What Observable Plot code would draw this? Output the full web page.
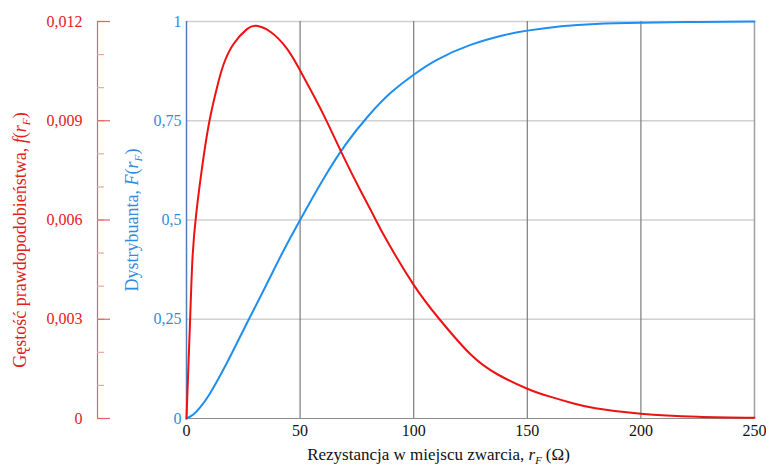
<!DOCTYPE html>
<html>
<head>
<meta charset="utf-8">
<script src="https://cdn.jsdelivr.net/npm/d3@7"></script>
<script src="https://cdn.jsdelivr.net/npm/@observablehq/plot@0.6"></script>
<style>
  html, body { margin: 0; padding: 0; background: #fff; }
</style>
</head>
<body>
<div id="chart"></div>
<script>
// ---- data ----
const cdfR = [0, 3, 6, 10, 15, 20, 27, 35, 42, 50, 60, 70, 80, 90, 100, 110, 125, 140, 150, 165, 180, 200, 225, 250];
const cdfF = [0, 0.01, 0.028, 0.06, 0.11, 0.165, 0.245, 0.335, 0.415, 0.5, 0.601, 0.69, 0.762, 0.821, 0.866, 0.903, 0.941, 0.966, 0.977, 0.988, 0.994, 0.997, 0.999, 1];

const denR = [0, 1.6, 2.6, 4.3, 7.5, 10.4, 13.4, 16.3, 20.7, 26.6, 30.7, 36.9, 44.2, 50, 55.9, 61.9, 68.5, 76.5, 82, 88, 100, 111, 125, 137, 150, 160, 170, 180, 200, 225, 250];
const denF = [0, 0.0030, 0.0048, 0.0062, 0.0079, 0.0091, 0.0100, 0.0107, 0.01132, 0.01177, 0.01187, 0.01169, 0.01118, 0.01052, 0.00977, 0.00896, 0.0080, 0.0069, 0.00618, 0.0054, 0.00404, 0.00303, 0.00194, 0.00133, 0.0009, 0.00066, 0.00046, 0.00031, 0.00014, 0.00005, 0.00002];

const xTicks = [0, 50, 100, 150, 200, 250];
const cdfTicks = [0, 0.25, 0.5, 0.75, 1];
const cdfTickLabels = ["0", "0,25", "0,5", "0,75", "1"];
const denMax = 0.012;
const denTicks = [0, 0.003, 0.006, 0.009, 0.012];
const denTickLabels = ["0", "0,003", "0,006", "0,009", "0,012"];
const denMinorTicks = [0, 0.001, 0.002, 0.003, 0.004, 0.005, 0.006, 0.007, 0.008, 0.009, 0.010, 0.011, 0.012];

const xTitle = "Rezystancja w miejscu zwarcia, rF (Ω)";
const redTitle = "Gęstość prawdopodobieństwa, f(rF)";
const blueTitle = "Dystrybuanta, F(rF)";

// ---- styling ----
const red = "#ee1111", redText = "#e3201b", redAxis = "#e46464", redMinor = "#f0a3a3";
const blue = "#1e8ef0", blueText = "#2f8be0";

const cdfData = cdfR.map((r, i) => ({r, v: cdfF[i]}));
const denData = denR.map((r, i) => ({r, v: denF[i]}));
const toF = d => d / denMax;   // density mapped onto the shared 0..1 frame
const redDx = -89;

const plot = Plot.plot({
  width: 766,
  height: 466,
  marginLeft: 186,
  marginRight: 12,
  marginTop: 21,
  marginBottom: 48,
  style: {fontFamily: "'Liberation Serif', 'DejaVu Serif', serif", fontSize: "16px", background: "#fff", overflow: "visible"},
  x: {domain: [0, 250]},
  y: {domain: [0, 1]},
  marks: [
    Plot.ruleY(cdfTicks.slice(1), {stroke: "#d0d0d0", strokeWidth: 1.5}),
    Plot.ruleX(xTicks.slice(1, -1), {stroke: "#7c7c7c", strokeWidth: 1.2}),
    Plot.ruleX(xTicks.slice(-1), {stroke: "#a0a0a0", strokeWidth: 1.5}),
    Plot.ruleY([0], {stroke: "#8c8c8c", strokeWidth: 1.2}),
    Plot.ruleX([0], {stroke: "#4f7fb5", strokeWidth: 1.5}),
    Plot.line(cdfData, {x: "r", y: "v", stroke: blue, strokeWidth: 2, curve: "natural"}),
    Plot.line(denData, {x: "r", y: d => toF(d.v), stroke: red, strokeWidth: 2, curve: "natural"}),
    // blue (CDF) axis labels
    Plot.axisY(cdfTicks, {anchor: "left", tickSize: 0, tickPadding: 5, tickFormat: d => cdfTickLabels[cdfTicks.indexOf(d)], fill: blueText, label: null}),
    // x axis labels
    Plot.axisX(xTicks, {tickSize: 0, tickPadding: 6, fill: "#111", label: null}),
    // red (density) axis
    Plot.ruleX([0], {dx: redDx, stroke: redAxis, strokeWidth: 1.2}),
    Plot.axisY(denMinorTicks.map(toF), {anchor: "left", dx: redDx, tickSize: -7, stroke: redMinor, strokeWidth: 1.2, fill: "none", label: null}),
    Plot.axisY(denTicks.map(toF), {anchor: "left", dx: redDx, tickSize: -13, stroke: redAxis, strokeWidth: 1.2, fill: "none", label: null}),
    Plot.axisY(denTicks.map(toF), {anchor: "left", dx: redDx, tickSize: 0, tickPadding: 15,
      tickFormat: d => denTickLabels[Math.round(d * 4)], fill: redText, label: null}),
    // titles
    Plot.text([xTitle], {frameAnchor: "bottom", textAnchor: "middle", lineAnchor: "middle", dx: -32, dy: 36, fill: "#111", fontSize: 17}),
    Plot.text([redTitle], {frameAnchor: "left", textAnchor: "middle", lineAnchor: "middle", rotate: -90, dx: -166, dy: 20, fill: redText, fontSize: 18}),
    Plot.text([blueTitle], {frameAnchor: "left", textAnchor: "middle", lineAnchor: "middle", rotate: -90, dx: -54, dy: 0, fill: blueText, fontSize: 18})
  ]
});

document.getElementById("chart").appendChild(plot);

// italic / subscript formatting for the mathematical symbols in the titles
function styleTitle(full, prefix, sym) {
  d3.select(plot).selectAll("text").each(function() {
    if (this.textContent !== full) return;
    const t = d3.select(this);
    t.text(null);
    t.append("tspan").text(prefix);
    if (sym === "x") {
      t.append("tspan").attr("font-style", "italic").text("r");
      t.append("tspan").attr("font-style", "italic").attr("font-size", "0.62em").attr("dy", 4).text("F");
      t.append("tspan").attr("dy", -4).text(" (Ω)");
    } else {
      t.append("tspan").attr("font-style", "italic").text(sym);
      t.append("tspan").text("(");
      t.append("tspan").attr("font-style", "italic").text("r");
      t.append("tspan").attr("font-style", "italic").attr("font-size", "0.62em").attr("dy", 4).text("F");
      t.append("tspan").attr("dy", -4).text(")");
    }
  });
}
styleTitle(xTitle, "Rezystancja w miejscu zwarcia, ", "x");
styleTitle(redTitle, "Gęstość prawdopodobieństwa, ", "f");
styleTitle(blueTitle, "Dystrybuanta, ", "F");
</script>
</body>
</html>
